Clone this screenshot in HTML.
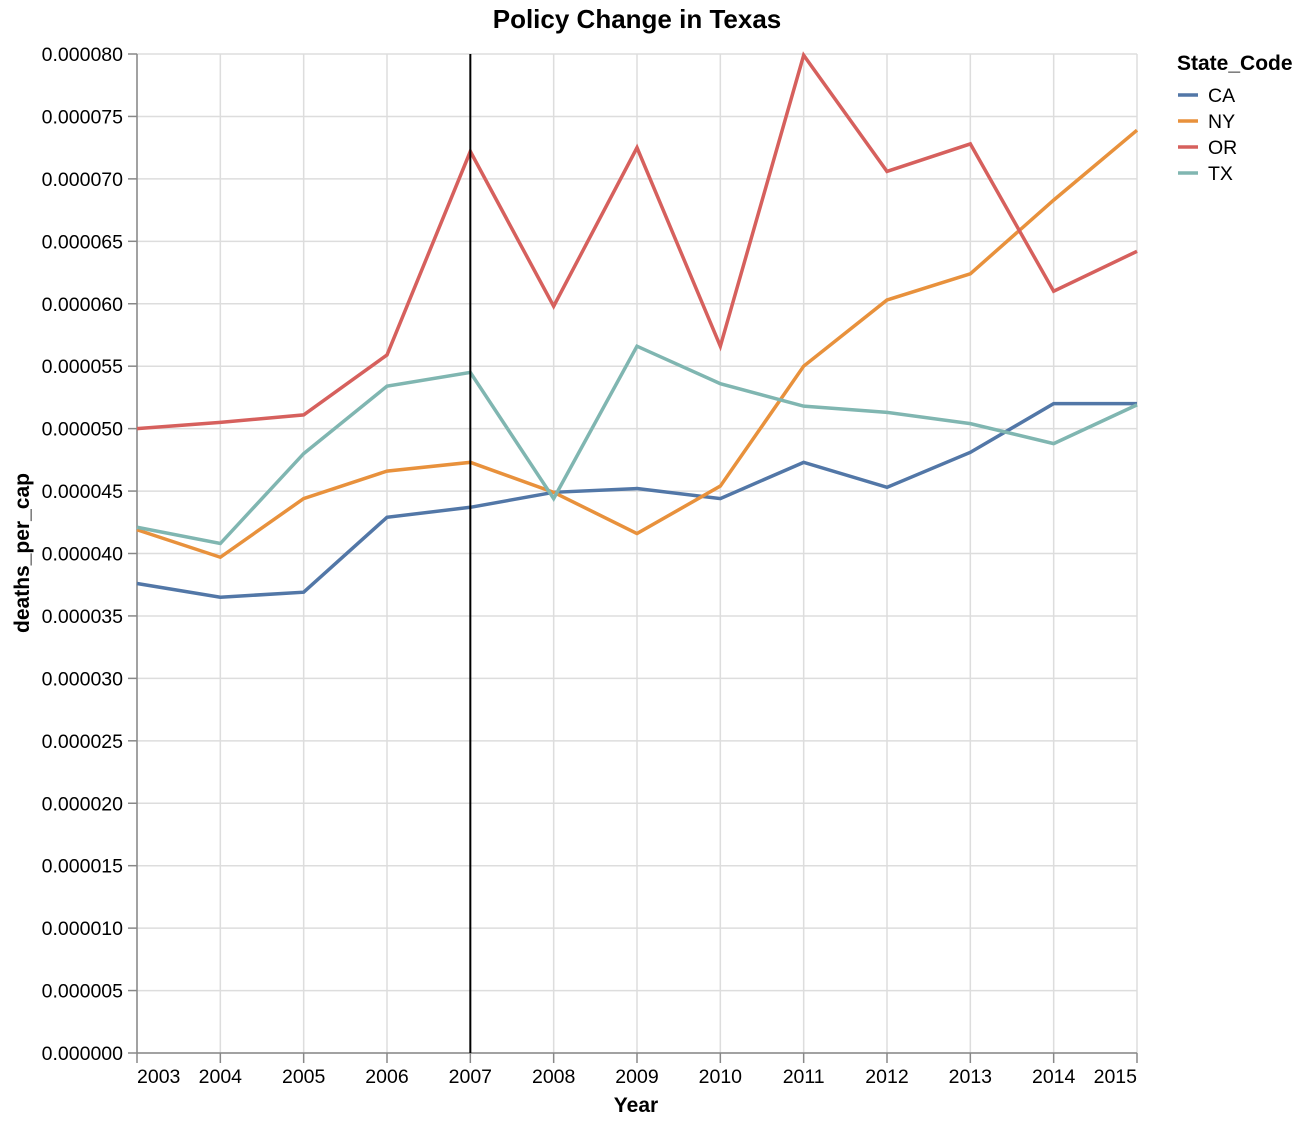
<!DOCTYPE html>
<html><head><meta charset="utf-8"><style>
body{margin:0;background:#fff;}
svg text{font-family:"Liberation Sans",Arial,sans-serif;fill:#000;}
</style></head><body>
<svg id="chart" width="1302" height="1122" xmlns="http://www.w3.org/2000/svg">
<text x="637" y="28" text-anchor="middle" font-size="26" font-weight="bold">Policy Change in Texas</text>
<g id="grid"></g><g id="axes"></g><g id="lines"></g><g id="legend"></g>
<text x="636" y="1112" text-anchor="middle" font-size="21" font-weight="bold">Year</text>
<text transform="translate(29,553) rotate(-90)" text-anchor="middle" font-size="21" font-weight="bold">deaths_per_cap</text>
</svg>
<script>
const years=[2003,2004,2005,2006,2007,2008,2009,2010,2011,2012,2013,2014,2015];
const states=["CA","NY","OR","TX"];
const colors=["#5277a7","#e8913c","#d6605d","#80b6b1"];
const caVals=[37.6,36.5,36.9,42.9,43.7,44.9,45.2,44.4,47.3,45.3,48.1,52.0,52.0];
const nyVals=[41.9,39.7,44.4,46.6,47.3,44.9,41.6,45.4,55.0,60.3,62.4,68.3,73.9];
const orVals=[50.0,50.5,51.1,55.9,72.2,59.8,72.5,56.6,79.9,70.6,72.8,61.0,64.2];
const txVals=[42.1,40.8,48.0,53.4,54.5,44.4,56.6,53.6,51.8,51.3,50.4,48.8,51.9];
const yTicks=[0,5,10,15,20,25,30,35,40,45,50,55,60,65,70,75,80];
const policyYear=2007;
const X0=137,X1=1137,Y0=1053,Y1=54;
const x=v=>X0+(v-years[0])/(years[years.length-1]-years[0])*(X1-X0);
const y=v=>Y0-v/80*(Y0-Y1);
const NS="http://www.w3.org/2000/svg";
function mk(tag,attrs,parent){const e=document.createElementNS(NS,tag);for(const k in attrs)e.setAttribute(k,attrs[k]);parent.appendChild(e);return e;}
const grid=document.getElementById('grid'),axes=document.getElementById('axes'),lines=document.getElementById('lines'),legend=document.getElementById('legend');
yTicks.forEach(t=>{
 const l=mk('line',{x1:X0,x2:X1,y1:y(t),y2:y(t),stroke:'#ddd','stroke-width':1.5},grid);
 
 
 mk('line',{x1:X0-9,x2:X0,y1:y(t),y2:y(t),stroke:'#888','stroke-width':1.5},axes);
 const tx=mk('text',{x:X0-14,y:y(t)+7,'text-anchor':'end','font-size':19.5},axes);
 tx.textContent=(t*1e-6).toFixed(6);
 
 
});
years.forEach((yr,i)=>{
 const l=mk('line',{x1:x(yr),x2:x(yr),y1:Y1,y2:Y0,stroke:'#ddd','stroke-width':1.5},grid);
 
 
 mk('line',{x1:x(yr),x2:x(yr),y1:Y0,y2:Y0+10,stroke:'#888','stroke-width':1.5},axes);
 const anchor=i==0?'start':(i==years.length-1?'end':'middle');
 const tx=mk('text',{x:x(yr),y:Y0+30,'text-anchor':anchor,'font-size':19.5},axes);
 tx.textContent=yr;
 
 
});
mk('line',{x1:X0,x2:X0,y1:Y1,y2:Y0,stroke:'#888','stroke-width':1.5},axes);
mk('line',{x1:X0,x2:X1,y1:Y0,y2:Y0,stroke:'#888','stroke-width':1.5},axes);
const series=[caVals,nyVals,orVals,txVals];
series.forEach((vals,si)=>{
 const p=mk('path',{d:vals.map((v,i)=>(i?'L':'M')+x(years[i])+','+y(v)).join(''),fill:'none',stroke:colors[si],'stroke-width':3.5},lines);
 
 
});
const pl=mk('line',{x1:x(policyYear),x2:x(policyYear),y1:Y1,y2:Y0,stroke:'#000','stroke-width':2},lines);


const lt=mk('text',{x:1177,y:70,'font-size':21,'font-weight':'bold'},legend);
lt.textContent='State_Code';


states.forEach((s,i)=>{
 const cy=95+i*26;
 const g=mk('g',{},legend);
 
 
 mk('line',{x1:1178,x2:1198,y1:cy,y2:cy,stroke:colors[i],'stroke-width':3.5},g);
 const t=mk('text',{x:1208,y:cy+7,'font-size':19.5},g);
 t.textContent=s;
});
</script>
</body></html>
